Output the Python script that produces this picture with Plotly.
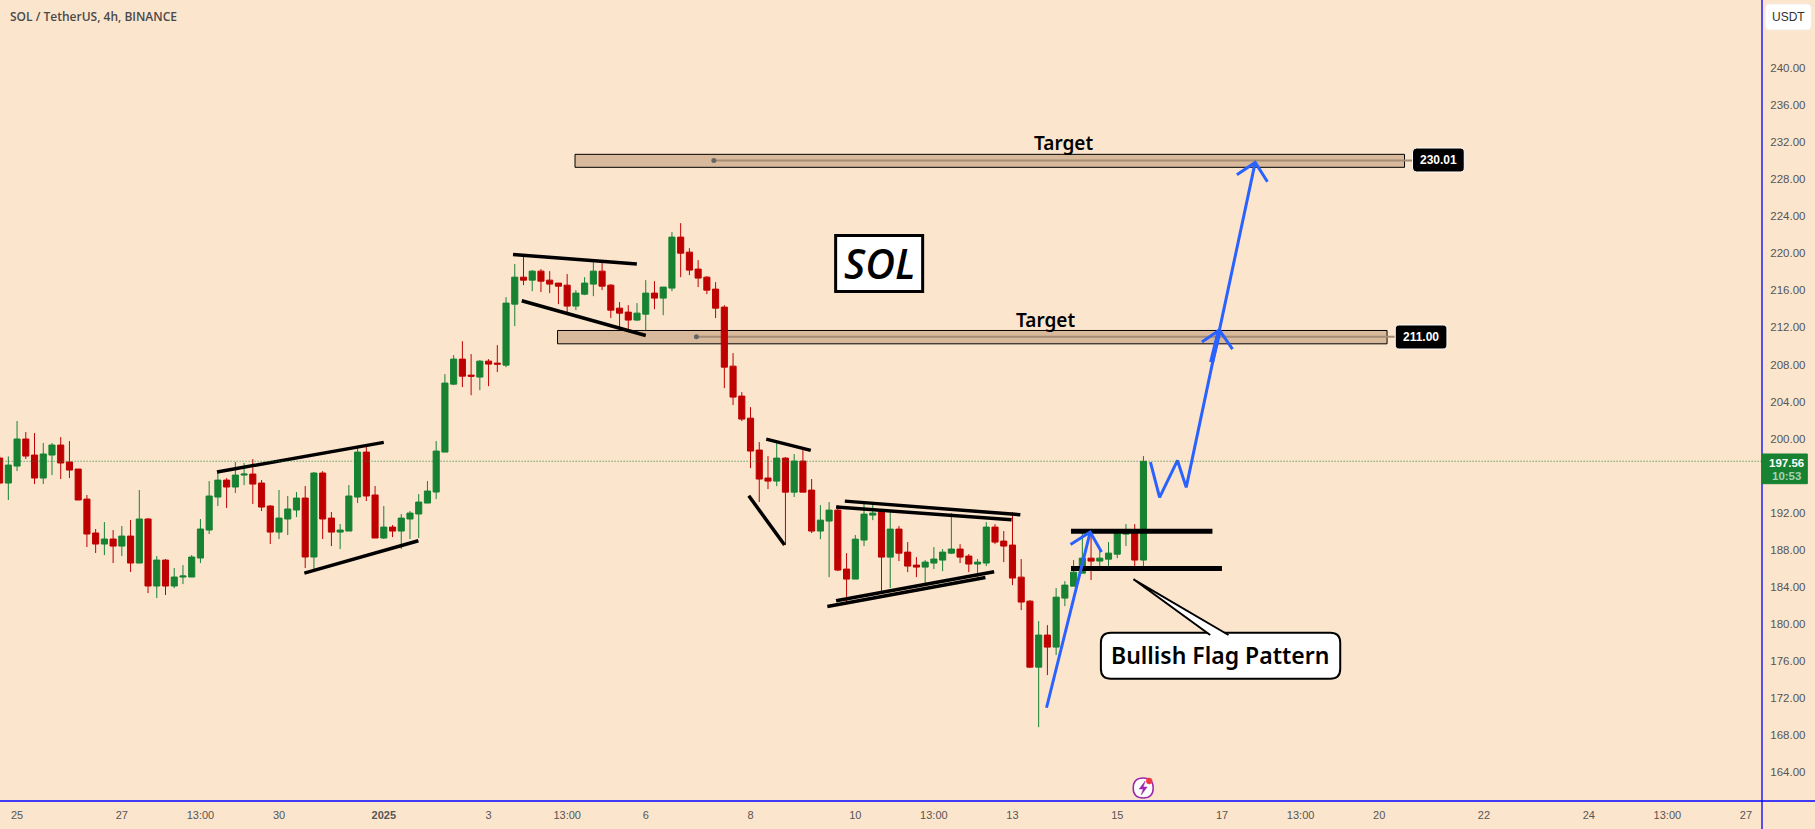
from datetime import datetime, timedelta
import plotly.graph_objects as go

# 4h candles, first one is 24 Dec 17:00 (chart time)
opens = [197.91, 195.21, 197.04, 199.96, 198.23, 195.75, 198.23, 199.31, 197.48, 196.72,
         193.48, 189.82, 188.63, 189.17, 188.41, 189.49, 186.58, 191.33, 184.10, 186.90,
         184.10, 185.07, 185.07, 187.12, 190.14, 193.70, 195.53, 194.78, 196.07, 196.18,
         195.21, 192.73, 189.92, 191.33, 192.30, 193.59, 187.23, 196.29, 191.43, 189.92,
         190.03, 193.70, 198.55, 193.92, 189.28, 190.46, 190.03, 191.33, 191.87, 193.05,
         194.24, 198.55, 205.88, 208.58, 206.85, 206.64, 208.36, 208.15, 207.93, 214.51,
         217.42, 217.10, 218.07, 217.10, 216.78, 216.56, 214.30, 215.59, 216.67, 218.07,
         216.56, 214.08, 213.65, 212.79, 213.43, 215.70, 215.16, 216.24, 221.74, 220.12,
         218.29, 217.42, 216.13, 214.19, 207.82, 204.59, 202.21, 198.77, 195.75, 195.42,
         197.90, 194.23, 197.58, 194.45, 190.03, 191.11, 192.29, 185.93, 184.85, 189.06,
         191.75, 192.08, 187.22, 190.24, 187.76, 186.36, 186.14, 186.58, 186.90, 187.65,
         188.09, 187.33, 186.47, 186.58, 190.46, 188.95, 188.52, 185.06, 182.47, 175.35,
         178.81, 177.51, 182.80, 184.09, 185.49, 187.11, 186.79, 187.00, 187.54, 189.70,
         190.02, 186.90]
highs = [198.20, 198.09, 201.90, 200.71, 200.60, 199.53, 199.53, 200.17, 199.74, 196.72,
         193.92, 190.25, 191.00, 190.14, 190.57, 191.22, 194.46, 191.43, 187.33, 187.01,
         186.04, 186.36, 187.44, 191.33, 195.43, 196.29, 195.75, 197.48, 197.37, 197.80,
         195.53, 192.84, 194.46, 193.81, 194.24, 194.89, 196.40, 196.50, 192.08, 190.79,
         194.99, 198.99, 199.42, 194.89, 192.73, 190.68, 191.87, 192.19, 194.02, 195.43,
         199.74, 206.96, 209.01, 210.52, 209.12, 208.47, 208.58, 210.09, 215.27, 218.83,
         219.91, 218.18, 218.29, 218.07, 216.78, 217.75, 216.02, 217.42, 219.04, 219.15,
         216.67, 214.73, 214.40, 214.62, 217.10, 216.99, 216.35, 222.28, 223.25, 220.55,
         219.26, 217.53, 216.88, 214.40, 209.23, 205.02, 203.40, 199.63, 198.12, 199.63,
         198.01, 198.33, 199.09, 195.64, 192.83, 193.16, 192.83, 187.65, 189.60, 193.16,
         192.94, 192.18, 192.08, 190.57, 188.84, 187.22, 186.90, 188.30, 188.09, 191.97,
         188.62, 187.55, 187.01, 191.00, 190.78, 190.03, 192.08, 187.01, 182.58, 180.32,
         179.88, 183.88, 184.63, 186.90, 190.13, 190.13, 188.08, 188.84, 190.13, 190.78,
         190.78, 198.12]
lows = [195.00, 193.38, 196.50, 197.80, 195.10, 195.10, 196.07, 195.64, 195.75, 193.38,
        188.31, 187.66, 187.44, 186.58, 187.33, 185.61, 186.58, 183.34, 182.80, 183.13,
        183.88, 184.31, 185.07, 186.58, 189.71, 192.73, 192.51, 194.13, 194.99, 192.94,
        192.19, 188.63, 189.17, 189.60, 191.54, 186.04, 185.93, 189.17, 188.41, 188.09,
        190.03, 193.05, 193.27, 189.28, 189.17, 189.38, 188.09, 189.17, 189.28, 193.05,
        193.48, 198.55, 205.77, 205.56, 204.69, 205.23, 205.66, 207.18, 207.71, 212.14,
        216.56, 215.91, 215.81, 215.70, 214.51, 213.65, 213.86, 215.48, 215.37, 216.02,
        213.00, 211.71, 211.60, 212.68, 211.71, 213.97, 213.32, 215.91, 217.42, 217.64,
        216.35, 215.59, 213.00, 205.45, 203.62, 201.89, 196.82, 193.16, 194.56, 194.88,
        188.52, 193.70, 194.23, 189.81, 189.16, 185.06, 185.71, 182.15, 184.85, 188.41,
        191.21, 183.55, 183.88, 186.79, 185.60, 185.06, 184.09, 185.93, 185.71, 187.55,
        186.58, 185.60, 185.06, 186.25, 188.62, 186.68, 184.20, 181.50, 175.25, 168.88,
        174.49, 176.65, 181.93, 184.09, 185.49, 184.74, 185.71, 185.82, 187.11, 188.41,
        185.93, 186.03]
closes = [195.21, 197.15, 199.96, 198.12, 195.75, 198.34, 199.31, 197.37, 196.61, 193.38,
          189.71, 188.63, 189.17, 188.41, 189.49, 186.58, 191.33, 184.10, 186.90, 184.10,
          185.07, 185.18, 187.23, 190.25, 193.81, 195.53, 194.78, 196.07, 196.18, 195.10,
          192.62, 189.92, 191.43, 192.41, 193.59, 187.23, 196.29, 191.33, 189.92, 190.14,
          193.81, 198.55, 193.81, 189.28, 190.46, 190.03, 191.43, 191.97, 193.16, 194.35,
          198.66, 205.99, 208.58, 206.74, 206.74, 208.36, 208.04, 208.04, 214.62, 217.42,
          217.10, 218.07, 216.99, 216.67, 216.45, 214.30, 215.70, 216.78, 218.07, 216.45,
          213.86, 213.54, 212.79, 213.54, 215.70, 215.16, 216.35, 221.74, 220.01, 218.18,
          217.32, 216.02, 214.08, 207.71, 204.48, 202.11, 198.66, 195.64, 195.42, 197.90,
          194.23, 197.58, 194.23, 190.03, 191.21, 192.29, 185.82, 184.85, 189.16, 191.86,
          191.97, 187.22, 190.24, 187.65, 186.25, 186.14, 186.68, 187.01, 187.76, 188.09,
          187.22, 186.47, 186.68, 190.46, 188.84, 188.41, 184.96, 182.37, 175.35, 178.81,
          177.51, 182.90, 184.20, 185.60, 187.11, 186.79, 187.11, 187.65, 189.81, 190.02,
          186.90, 197.56]

price_ticks = [164, 168, 172, 176, 180, 184, 188, 192, 200, 204, 208, 212, 216, 220, 224, 228, 232, 236, 240]

# bar number of each time label, bar 0 = 24 Dec 17:00
time_tick_bars = [2, 14, 23, 32, 44, 56, 65, 74, 86, 98, 107, 116, 128, 140, 149, 158, 170, 182, 191, 200]
time_tick_text = ["25", "27", "13:00", "30", "<b>2025</b>", "3", "13:00", "6", "8", "10", "13:00",
                  "13", "15", "17", "13:00", "20", "22", "24", "13:00", "27"]

last_price = 197.56
targets = [230.01, 211.00]
target_tops = [230.67, 211.67]
target_bottoms = [229.27, 210.23]
target_left_bars = [65.9, 63.9]
target_dot_bars = [81.8, 79.8]
target_right_bars = [160.9, 158.9]
target_stub_bars = [162.0, 159.8]

# drawn lines: bar, price, bar, price
trend_lines = [
    (24.9, 196.40, 44.0, 199.60), (34.9, 185.50, 47.96, 188.99),
    (58.8, 219.87, 72.98, 218.83), (59.8, 214.87, 74.0, 211.13),
    (87.8, 199.95, 92.9, 198.73), (85.8, 193.84, 89.9, 188.52),
    (96.8, 193.26, 116.9, 191.79), (95.8, 192.62, 115.9, 191.25),
    (94.8, 181.90, 112.9, 185.03), (95.8, 182.51, 113.9, 185.64),
]
flag_lines = [(122.7, 190.02, 138.9, 190.02), (122.7, 186.00, 139.99, 186.00)]

pole_bars = [119.9, 124.9, 122.65, 124.9, 126.2]
pole_prices = [170.97, 189.92, 188.59, 189.92, 187.76]
path_bars = [131.8, 132.85, 134.9, 135.9, 139.7, 143.8, 141.7, 143.8, 145.2]
path_prices = [197.47, 193.66, 197.65, 194.74, 211.71, 229.80, 228.47, 229.80, 227.72]
head_bars = [137.7, 139.7, 141.2]
head_prices = [210.42, 211.71, 209.66]
stub_bars = [138.8, 139.7]
stub_prices = [208.23, 211.71]

BG = "#FCE5CD"
GREEN = "#168232"
RED = "#BF0000"
BLUE = "#2962FF"
TAN = "#D9B99B"
TEXT = "#555555"

W, H = 1815, 829
PLOT_W, PLOT_H = 1761.7, 801.0


def bar_time(i):
    return datetime(2024, 12, 24, 17) + timedelta(hours=4 * i)


def px(x, y):
    # screen pixel to paper coordinates, for the overlay boxes
    return x / PLOT_W, 1 - y / PLOT_H


def pt(x, y):
    a, b = px(x, y)
    return f"{a:.5f},{b:.5f}"


def round_box(x0, y0, x1, y1, r):
    return (f"M {pt(x0 + r, y0)} L {pt(x1 - r, y0)} Q {pt(x1, y0)} {pt(x1, y0 + r)} "
            f"L {pt(x1, y1 - r)} Q {pt(x1, y1)} {pt(x1 - r, y1)} "
            f"L {pt(x0 + r, y1)} Q {pt(x0, y1)} {pt(x0, y1 - r)} "
            f"L {pt(x0, y0 + r)} Q {pt(x0, y0)} {pt(x0 + r, y0)} Z")


def add_path(fig, path, fill, line, width=1, layer="above"):
    fig.add_shape(type="path", xref="paper", yref="paper", path=path, fillcolor=fill,
                  line=dict(color=line, width=width), layer=layer)


def add_text(fig, x, y, text, size, color, family, weight=400, anchor="center", style="normal"):
    a, b = px(x, y)
    fig.add_annotation(xref="paper", yref="paper", x=a, y=b, text=text, showarrow=False,
                       xanchor=anchor, yanchor="middle", align=anchor,
                       font=dict(size=size, color=color, family=family, weight=weight, style=style))


times = [bar_time(i) for i in range(len(opens))]

fig = go.Figure()
fig.add_trace(go.Candlestick(
    x=times, open=opens, high=highs, low=lows, close=closes,
    increasing=dict(line=dict(color=GREEN, width=1), fillcolor=GREEN),
    decreasing=dict(line=dict(color=RED, width=1), fillcolor=RED),
    whiskerwidth=0, hoverinfo="skip", showlegend=False,
))

# target zones sit under the candles
for i in range(len(targets)):
    fig.add_shape(type="rect", x0=bar_time(target_left_bars[i]), x1=bar_time(target_right_bars[i]),
                  y0=target_bottoms[i], y1=target_tops[i], fillcolor=TAN,
                  line=dict(color="black", width=1), layer="below")
    fig.add_shape(type="line", x0=bar_time(target_dot_bars[i]), x1=bar_time(target_stub_bars[i]),
                  y0=targets[i], y1=targets[i], line=dict(color="#A58D75", width=2), layer="below")
    fig.add_trace(go.Scatter(x=[bar_time(target_dot_bars[i])], y=[targets[i]], mode="markers",
                             marker=dict(color="#666666", size=5), hoverinfo="skip", showlegend=False))

fig.add_shape(type="line", x0=bar_time(0), x1=bar_time(202), y0=last_price, y1=last_price,
              line=dict(color=GREEN, width=1.2, dash="1px,2px"))

for x0, y0, x1, y1 in trend_lines:
    fig.add_trace(go.Scatter(x=[bar_time(x0), bar_time(x1)], y=[y0, y1], mode="lines",
                             line=dict(color="black", width=3.5), hoverinfo="skip", showlegend=False))
for x0, y0, x1, y1 in flag_lines:
    fig.add_trace(go.Scatter(x=[bar_time(x0), bar_time(x1)], y=[y0, y1], mode="lines",
                             line=dict(color="black", width=5), hoverinfo="skip", showlegend=False))

for bars, prices, width in [(pole_bars, pole_prices, 3), (path_bars, path_prices, 3),
                            (head_bars, head_prices, 3), (stub_bars, stub_prices, 5)]:
    fig.add_trace(go.Scatter(x=[bar_time(b) for b in bars], y=prices, mode="lines",
                             line=dict(color=BLUE, width=width), hoverinfo="skip", showlegend=False))

# frame lines
fig.add_shape(type="line", xref="paper", yref="paper", x0=1, x1=1, y0=-28 / PLOT_H, y1=1,
              line=dict(color="#0000FF", width=1.3))
fig.add_shape(type="line", xref="paper", yref="paper", x0=0, x1=W / PLOT_W, y0=0, y1=0,
              line=dict(color="#0000FF", width=1.3))

# header and unit box
add_text(fig, 8, 16, "SOL / TetherUS, 4h, BINANCE", 12, "#4A4A4A", "Open Sans", 600, "left")
add_path(fig, round_box(1765, 4, 1811, 30, 4), "white", "#F3EDE6")
add_text(fig, 1788, 17, "USDT", 12, "#333333", "Liberation Sans")

# SOL box
add_path(fig, f"M {pt(835.5, 235.5)} L {pt(922.5, 235.5)} L {pt(922.5, 291.5)} L {pt(835.5, 291.5)} Z",
         "white", "black", 3)
add_text(fig, 879, 263, "SOL", 41, "black", "Open Sans", 600, style="italic")

add_text(fig, 1063, 143, "Target", 19, "black", "Noto Sans", 600)
add_text(fig, 1045, 320, "Target", 19, "black", "Noto Sans", 600)

# price labels
add_path(fig, round_box(1412.3, 148, 1464, 172, 4), "black", "white")
add_text(fig, 1438, 160, "230.01", 12, "white", "Liberation Sans", 700)
add_path(fig, round_box(1395, 325, 1446.7, 349, 4), "black", "white")
add_text(fig, 1421, 337, "211.00", 12, "white", "Liberation Sans", 700)

add_path(fig, f"M {pt(1761.7, 454)} L {pt(1807, 454)} L {pt(1807, 483.7)} L {pt(1761.7, 483.7)} Z", GREEN, GREEN)
add_text(fig, 1786, 463, "197.56", 11.5, "white", "Liberation Sans", 700)
add_text(fig, 1786, 476, "10:53", 11.5, "#A9D1B3", "Liberation Sans", 700)

# callout
add_path(fig, round_box(1100.7, 632.7, 1340, 678.7, 10), "white", "black", 2)
add_path(fig, f"M {pt(1210, 635)} L {pt(1133.3, 579.3)} L {pt(1228.3, 635)}", "white", "black", 2)
add_text(fig, 1220, 655, "Bullish Flag Pattern", 23, "black", "Noto Sans", 600)

# alert icon
add_path(fig, f"M {pt(1133, 788)} Q {pt(1133, 778)} {pt(1143, 778)} Q {pt(1153, 778)} {pt(1153, 788)} "
              f"Q {pt(1153, 798)} {pt(1143, 798)} Q {pt(1133, 798)} {pt(1133, 788)} Z",
         "white", "#9C27B0", 1.5)
add_path(fig, f"M {pt(1145, 781)} L {pt(1139, 789)} L {pt(1143, 789)} L {pt(1141, 795)} "
              f"L {pt(1147, 787)} L {pt(1143, 787)} Z", "#9C27B0", "#9C27B0", 0.5)
add_path(fig, f"M {pt(1146, 781)} Q {pt(1146, 778)} {pt(1149, 778)} Q {pt(1152, 778)} {pt(1152, 781)} "
              f"Q {pt(1152, 784)} {pt(1149, 784)} Q {pt(1146, 784)} {pt(1146, 781)} Z",
         "#F23645", "#F23645", 0.5)

fig.update_layout(
    width=W, height=H, autosize=False, showlegend=False, boxgap=0.3, boxgroupgap=0,
    paper_bgcolor=BG, plot_bgcolor=BG,
    margin=dict(l=0, r=W - PLOT_W, t=0, b=H - PLOT_H, pad=0),
    font=dict(family="Liberation Sans", size=11, color=TEXT),
)
fig.update_xaxes(
    type="date", range=[bar_time(0.046), bar_time(201.84)], rangeslider=dict(visible=False),
    tickmode="array", tickvals=[bar_time(b) for b in time_tick_bars], ticktext=time_tick_text,
    showgrid=False, zeroline=False, showline=False, ticks="outside", ticklen=4, tickcolor=BG,
    tickfont=dict(size=11, color=TEXT), automargin=False,
)
fig.update_yaxes(
    range=[160.91, 247.32], side="right", tickmode="array", tickvals=price_ticks,
    ticktext=[f"{p:.2f}" for p in price_ticks], showgrid=False, zeroline=False, showline=False,
    ticks="outside", ticklen=5, tickcolor=BG, tickfont=dict(size=11.5, color=TEXT), automargin=False,
)

fig.write_html("out.html", config=dict(displayModeBar=False),
               post_script="document.body.style.margin='0';document.body.style.overflow='hidden';")
